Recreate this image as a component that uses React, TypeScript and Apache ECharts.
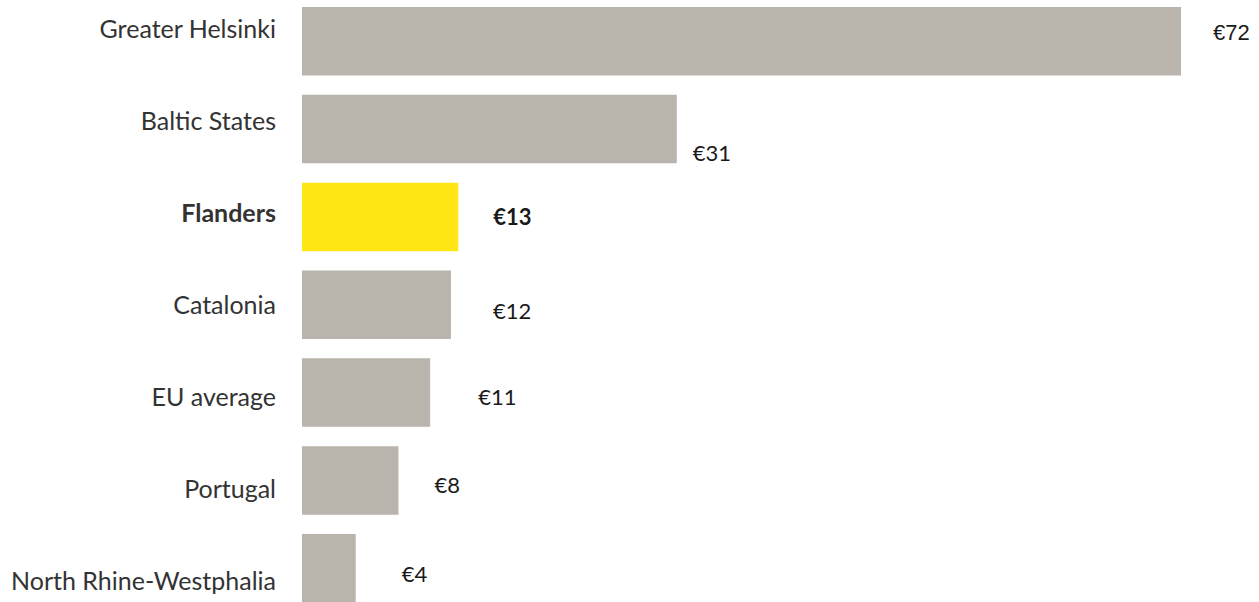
import React, { useEffect, useRef } from "react";
import * as echarts from "echarts";

const categories = [
  "Greater Helsinki",
  "Baltic States",
  "Flanders",
  "Catalonia",
  "EU average",
  "Portugal",
  "North Rhine-Westphalia",
];
const values = [72, 30.7, 12.8, 12.2, 10.5, 7.9, 4.4];
const valueLabels = ["€72", "€31", "€13", "€12", "€11", "€8", "€4"];
const highlight = "Flanders";

// label placement tweaks [dx, dy] relative to bar end / bar centre
const labelOffsets = [
  [32, -9],
  [16, 23],
  [35, 0],
  [42, 6],
  [48, 3.5],
  [36, 4.5],
  [46, 5],
];

const FONT = "Lato";
const GREY = "#b9b5ad";
const YELLOW = "#ffe615";
const SHIFT = 30; // div is moved up by this many px

export default function App() {
  const ref = useRef<HTMLDivElement>(null);
  useEffect(() => {
    if (!ref.current) return;
    document.documentElement.style.overflow = "hidden";
    document.body.style.overflow = "hidden";
    const chart = echarts.init(ref.current, undefined, { renderer: "svg" });
    const pxPerUnit = 879 / 72;
    const xMax = 75;
    const gridWidth = xMax * pxPerUnit;
    chart.setOption({
      animation: false,
      grid: [
        { left: 302, top: SHIFT - 2.67, width: gridWidth, height: 614.8 },
        { left: 302, top: SHIFT - 18, width: gridWidth, height: 644 },
      ],
      xAxis: [
        { type: "value", min: 0, max: xMax, show: false, gridIndex: 0 },
        { type: "value", min: 0, max: xMax, show: false, gridIndex: 1 },
      ],
      yAxis: [
        {
          type: "category",
          gridIndex: 0,
          data: categories,
          inverse: true,
          show: false,
        },
        {
          type: "category",
          gridIndex: 1,
          data: categories,
          inverse: true,
          axisLine: { show: false },
          axisTick: { show: false },
          splitLine: { show: false },
          axisLabel: {
            margin: 26,
            formatter: (v: string) => (v === highlight ? `{b|${v}}` : `{n|${v}}`),
            rich: {
              n: { fontFamily: FONT, fontSize: 25, color: "#333333" },
              b: { fontFamily: FONT, fontSize: 25, fontWeight: "bold", color: "#333333" },
            },
          },
        },
      ],
      series: [
        {
          type: "bar",
          xAxisIndex: 0,
          yAxisIndex: 0,
          barWidth: 68.5,
          data: values.map((v, i) => ({
            value: v,
            itemStyle: { color: categories[i] === highlight ? YELLOW : GREY },
            label: {
              show: true,
              position: "right",
              distance: 0,
              offset: labelOffsets[i],
              formatter: valueLabels[i],
              fontFamily: i === 0 ? "Liberation Sans" : FONT,
              fontSize: 22,
              fontWeight: categories[i] === highlight ? "bold" : "normal",
              color: "#1a1a1a",
            },
          })),
        },
      ],
    });
    return () => chart.dispose();
  }, []);
  return (
    <div
      ref={ref}
      style={{ position: "absolute", left: 0, top: -SHIFT, width: 1259, height: 700 }}
    />
  );
}
